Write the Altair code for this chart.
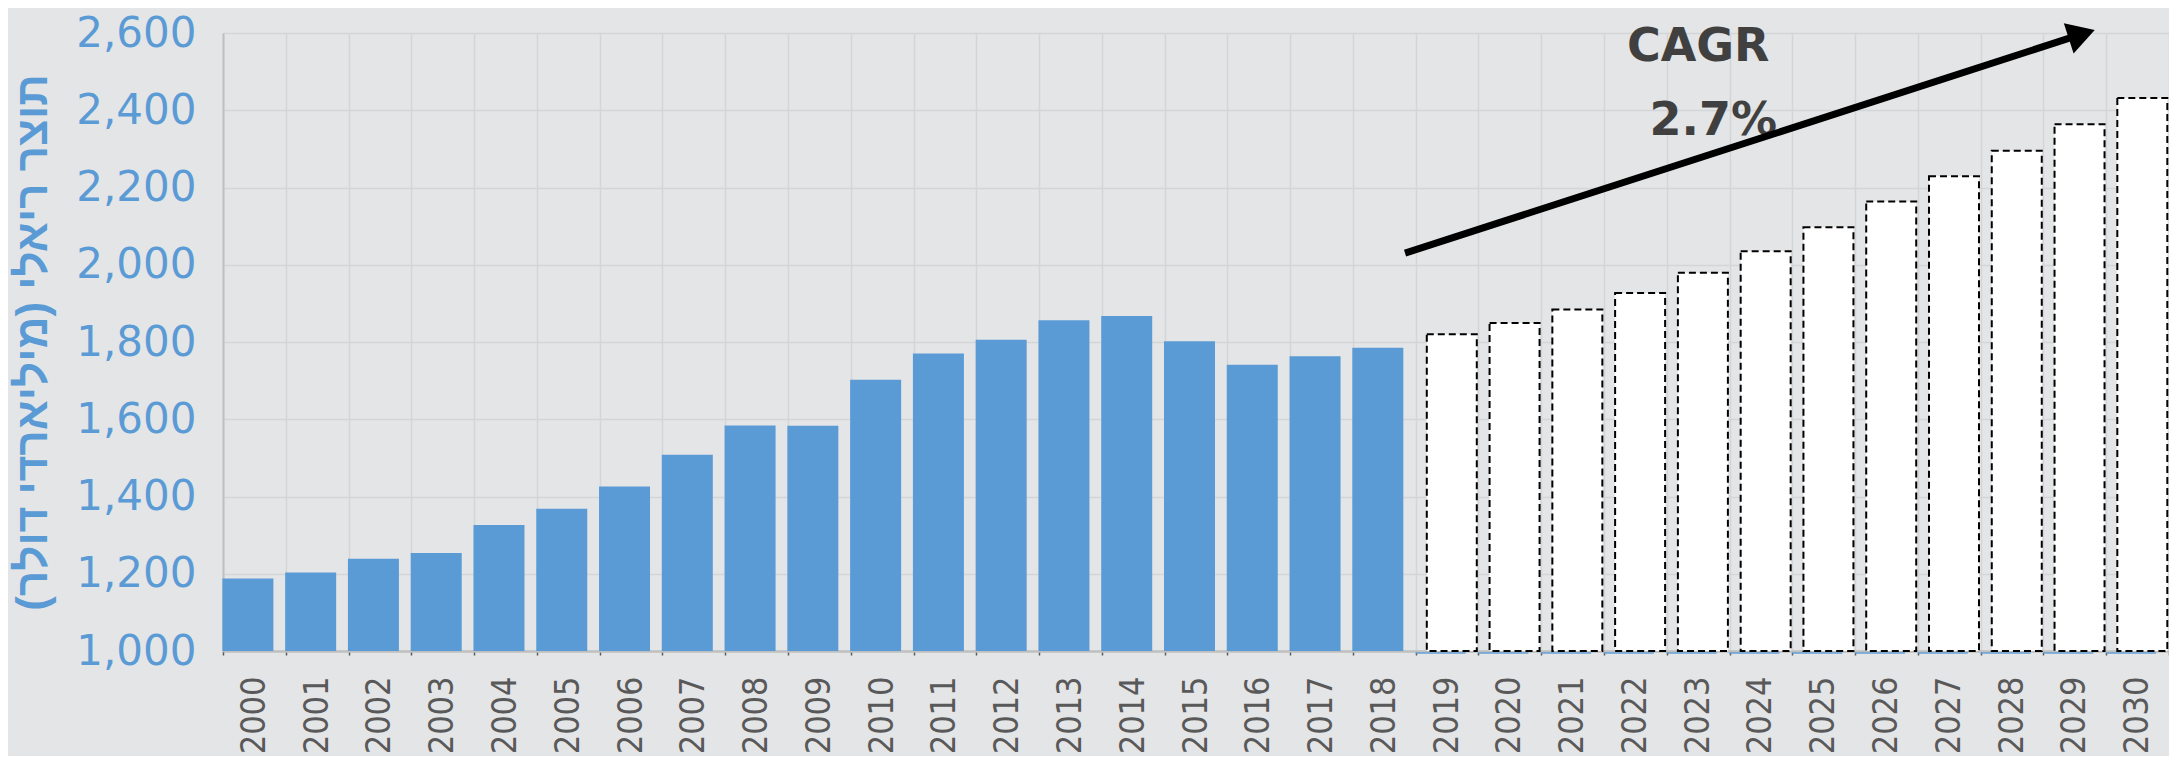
import altair as alt
import pandas as pd

# ---- data ----
hist_years = ["2000", "2001", "2002", "2003", "2004", "2005", "2006", "2007", "2008", "2009",
              "2010", "2011", "2012", "2013", "2014", "2015", "2016", "2017", "2018"]
hist_values = [1188, 1203, 1239, 1254, 1326, 1368, 1426, 1508, 1584, 1583,
               1702, 1770, 1806, 1856, 1867, 1802, 1741, 1763, 1785]

fc_years = ["2019", "2020", "2021", "2022", "2023", "2024", "2025", "2026", "2027", "2028", "2029", "2030"]
fc_values = [1820, 1849, 1884, 1927, 1979, 2035, 2097, 2164, 2229, 2295, 2364, 2432]

all_years = hist_years + fc_years
y_ticks = [1000, 1200, 1400, 1600, 1800, 2000, 2200, 2400, 2600]
y_title = "תוצר ריאלי (מיליארדי דולר)"

# arrow annotation (x in category units from the left edge, y in data units)
arrow_x = [18.83, 29.61]
arrow_y = [2030, 2597]
head_x = [29.61]
head_y = [2597]
label_texts = ["CAGR", "2.7%"]
label_x = [23.50, 23.74]
label_y = [2527, 2336]

# ---- tables ----
hist_df = pd.DataFrame({"year": hist_years, "value": hist_values})
fc_df = pd.DataFrame({"year": fc_years, "value": fc_values})
under_df = pd.DataFrame({"year": fc_years, "value": [1000] * len(fc_years)})
arrow_df = pd.DataFrame({"u": arrow_x, "value": arrow_y})
head_df = pd.DataFrame({"u": head_x, "value": head_y})
text_df = pd.DataFrame({"u": label_x, "value": label_y, "t": label_texts})

W, H = 1946, 618
BLUE = "#5b9bd5"
GRID = "#d4d5d7"

xscale = alt.Scale(domain=all_years, paddingInner=0, paddingOuter=0)
yscale = alt.Scale(domain=[1000, 2600], zero=False, nice=False)
uscale = alt.Scale(domain=[0, 31], nice=False, zero=True)

xaxis = alt.Axis(
    title=None, labelAngle=270, labelAlign="right", labelBaseline="middle",
    labelFont="DejaVu Sans Condensed", labelFontSize=34, labelColor="#595959",
    labelPadding=21, labelOverlap=False, labelLimit=400,
    ticks=True, tickSize=4, tickColor="#595959", tickWidth=1.5, tickBand="extent",
    grid=True, gridColor=GRID, gridWidth=1.5,
    domain=True, domainColor="#bfbfbf", domainWidth=2.5,
)
yaxis = alt.Axis(
    values=y_ticks, labelExpr="format(datum.value, ',')",
    labelFont="DejaVu Sans", labelFontSize=42,
    labelColor=BLUE, labelPadding=27, labelFlush=False, labelOverlap=False,
    ticks=False, domain=True, domainColor="#bfbfbf", domainWidth=2,
    grid=True, gridColor=GRID, gridWidth=1.5,
    title=y_title, titleFont="Liberation Sans", titleFontSize=44, titleFontWeight="bold",
    titleColor=BLUE, titleAngle=270, titleX=-190, titleY=H / 2,
    titleAlign="center", titleBaseline="middle",
)

hist = alt.Chart(hist_df).mark_bar(color=BLUE, width=51, xOffset=-6.5).encode(
    x=alt.X("year:N", scale=xscale, axis=xaxis, sort=all_years),
    y=alt.Y("value:Q", scale=yscale, axis=yaxis),
    y2=alt.datum(1000),
)

fc = alt.Chart(fc_df).mark_bar(
    fill="white", stroke="black", strokeWidth=2, strokeDash=[7, 4], width=50, xOffset=4.7
).encode(
    x=alt.X("year:N", scale=xscale, axis=xaxis, sort=all_years),
    y=alt.Y("value:Q", scale=yscale, axis=yaxis),
    y2=alt.datum(1000),
)

under = alt.Chart(under_df).mark_tick(
    color=BLUE, thickness=2, size=50, xOffset=-6.5, yOffset=2, orient="horizontal"
).encode(
    x=alt.X("year:N", scale=xscale, axis=xaxis, sort=all_years),
    y=alt.Y("value:Q", scale=yscale, axis=yaxis),
)

texts = alt.Chart(text_df).mark_text(
    font="DejaVu Sans", fontWeight="bold", fontSize=46, color="#404040",
    align="center", baseline="alphabetic"
).encode(
    x=alt.X("u:Q", scale=uscale, axis=None),
    y=alt.Y("value:Q", scale=yscale, axis=yaxis),
    text="t:N",
)

arrow = alt.Chart(arrow_df).mark_line(color="black", strokeWidth=7, strokeCap="butt").encode(
    x=alt.X("u:Q", scale=uscale, axis=None),
    y=alt.Y("value:Q", scale=yscale, axis=yaxis),
)

head = alt.Chart(head_df).mark_point(
    shape="triangle-up", filled=True, color="black", opacity=1, size=1000, angle=72
).encode(
    x=alt.X("u:Q", scale=uscale, axis=None),
    y=alt.Y("value:Q", scale=yscale, axis=yaxis),
)

bars = alt.layer(hist, fc, under)
ann = alt.layer(texts, arrow, head)

chart = alt.layer(bars, ann).resolve_scale(x="independent").properties(
    width=W, height=H,
    autosize=alt.AutoSizeParams(type="none"),
    padding={"left": 215, "top": 25, "right": 0, "bottom": 105},
    background="#e4e5e7",
).configure_view(stroke=None)

chart.save("out.html", embed_options={"renderer": "svg", "actions": False})
